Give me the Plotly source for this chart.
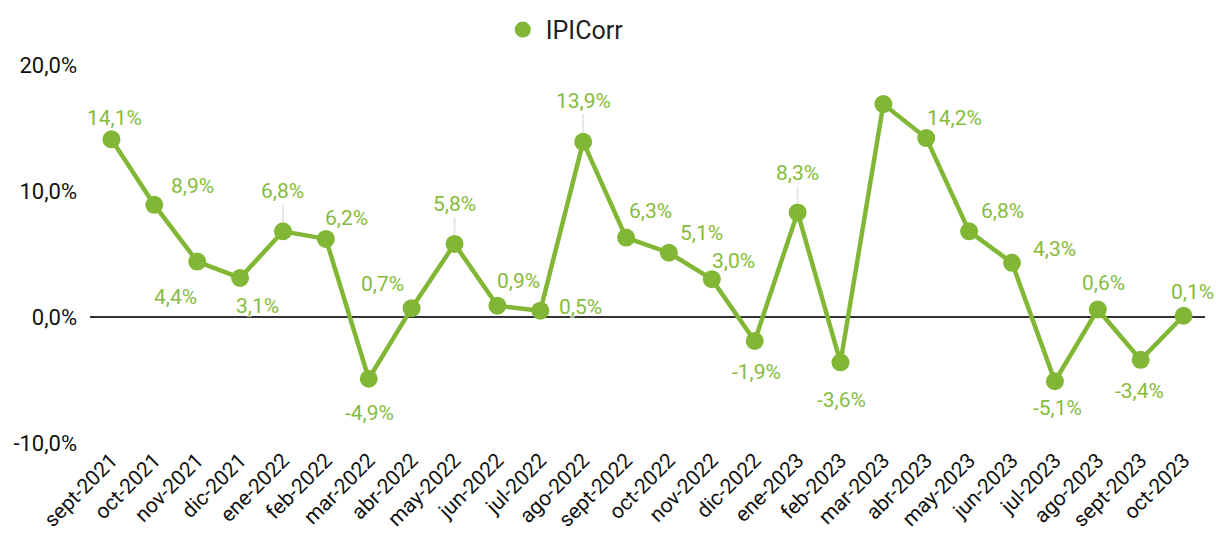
import plotly.graph_objects as go

categories = ["sept-2021", "oct-2021", "nov-2021", "dic-2021", "ene-2022", "feb-2022",
              "mar-2022", "abr-2022", "may-2022", "jun-2022", "jul-2022", "ago-2022",
              "sept-2022", "oct-2022", "nov-2022", "dic-2022", "ene-2023", "feb-2023",
              "mar-2023", "abr-2023", "may-2023", "jun-2023", "jul-2023", "ago-2023",
              "sept-2023", "oct-2023"]
ipicorr = [14.1, 8.9, 4.4, 3.1, 6.8, 6.2, -4.9, 0.7, 5.8, 0.9, 0.5, 13.9,
           6.3, 5.1, 3.0, -1.9, 8.3, -3.6, 16.9, 14.2, 6.8, 4.3, -5.1, 0.6,
           -3.4, 0.1]
show_label = [True] * len(categories)
show_label[18] = False  # label hidden in reference

y_ticks = [-10, 0, 10, 20]
y_tick_text = ["-10,0%", "0,0%", "10,0%", "20,0%"]

# label offsets in pixels (text center relative to point) - styling only
label_dx = [3, 38, -22, 17, 0, 21, 1, -29, 0, 21, 40, 0, 24, 33, 22, 2, 0, 1, 0, 28, 33, 42, 3, 6, -1, 9]
label_dy = [-21, -19, 35, 28, -40, -21, 34, -24, -40, -25, -4, -41, -27, -20, -18, 31, -39, 38, 0, -20, -20, -14, 27, -26, 31, -24]
leader = {4, 8, 11, 16}

GREEN = "#82b735"
LABEL_GREEN = "#86bc3c"

fig = go.Figure()
fig.add_trace(go.Scatter(
    x=categories, y=ipicorr, mode="lines+markers",
    line=dict(color=GREEN, width=4.5),
    marker=dict(color=GREEN, size=18),
    showlegend=False, hoverinfo="skip",
))
fig.add_trace(go.Scatter(
    x=[None], y=[None], mode="markers", name="IPICorr",
    marker=dict(color=GREEN, size=16), showlegend=True,
))

halo = "1px 1px 1px white, -1px -1px 1px white, 1px -1px 1px white, -1px 1px 1px white"
for i, (c, v) in enumerate(zip(categories, ipicorr)):
    if not show_label[i]:
        continue
    txt = f"{v:.1f}".replace(".", ",") + "%"
    fig.add_annotation(
        x=c, y=v, text=txt, showarrow=True,
        ax=label_dx[i], ay=label_dy[i],
        arrowhead=0, arrowwidth=2,
        arrowcolor="#e6e6e6" if i in leader else "rgba(0,0,0,0)",
        standoff=9, startstandoff=0,
        font=dict(family="Roboto", size=21, color=LABEL_GREEN, shadow=halo),
    )

fig.update_layout(
    width=1216, height=542,
    margin=dict(l=90, r=11, t=65, b=99, autoexpand=False),
    paper_bgcolor="white", plot_bgcolor="white",
    font=dict(family="Roboto", size=21, color="#111111"),
    legend=dict(orientation="h", xref="container", yref="container",
                x=0.411, y=0.945, xanchor="left", yanchor="middle",
                font=dict(family="Roboto", size=25, color="#222222"),
                itemsizing="trace", itemwidth=36),
    xaxis=dict(type="category", range=[-0.5, 25.5], showgrid=False,
               tickangle=-45, tickfont=dict(size=21, color="#111111"),
               ticks="", showline=False, zeroline=False, automargin=False),
    yaxis=dict(range=[-10, 20], tickvals=y_ticks, ticktext=y_tick_text,
               showgrid=False, zeroline=True, zerolinecolor="#333333",
               zerolinewidth=2, ticks="", showline=False, automargin=False,
               ticklabelstandoff=12,
               tickfont=dict(size=22, color="#111111")),
)

fig.write_html("out.html", config={"displayModeBar": False},
               post_script="document.body.style.margin='0';document.body.style.overflow='hidden';")
